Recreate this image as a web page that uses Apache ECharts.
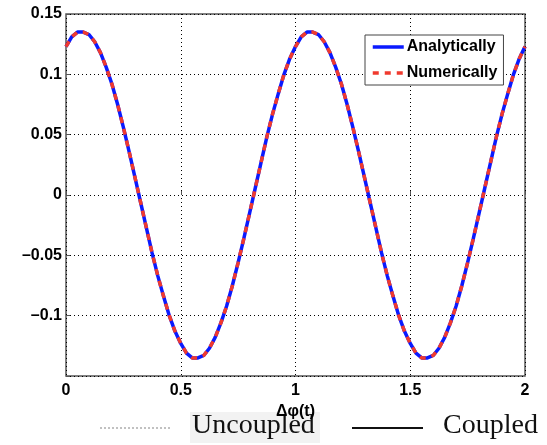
<!DOCTYPE html>
<html>
<head>
<meta charset="utf-8">
<script src="https://cdn.jsdelivr.net/npm/echarts@6/dist/echarts.min.js"></script>
<style>
  html, body { margin: 0; padding: 0; background: #fff; }
  #myChart { width: 547px; height: 445px; }
</style>
</head>
<body>
<div id="myChart"></div>
<script>
// values, t step 0.025
var tValues = [0, 0.025, 0.05, 0.075, 0.1, 0.125, 0.15, 0.175, 0.2, 0.225, 0.25, 0.275, 0.3, 0.325, 0.35, 0.375, 0.4, 0.425, 0.45, 0.475,
  0.5, 0.525, 0.55, 0.575, 0.6, 0.625, 0.65, 0.675, 0.7, 0.725, 0.75, 0.775, 0.8, 0.825, 0.85, 0.875, 0.9, 0.925, 0.95, 0.975,
  1, 1.025, 1.05, 1.075, 1.1, 1.125, 1.15, 1.175, 1.2, 1.225, 1.25, 1.275, 1.3, 1.325, 1.35, 1.375, 1.4, 1.425, 1.45, 1.475,
  1.5, 1.525, 1.55, 1.575, 1.6, 1.625, 1.65, 1.675, 1.7, 1.725, 1.75, 1.775, 1.8, 1.825, 1.85, 1.875, 1.9, 1.925, 1.95, 1.975, 2];
var analytically = [0.123, 0.131, 0.135, 0.135, 0.133, 0.127, 0.118, 0.106, 0.092, 0.075, 0.056, 0.036, 0.015, -0.006, -0.027, -0.048, -0.067, -0.084, -0.100, -0.113,
  -0.123, -0.131, -0.135, -0.135, -0.133, -0.127, -0.118, -0.106, -0.092, -0.075, -0.056, -0.036, -0.015, 0.006, 0.027, 0.048, 0.067, 0.084, 0.100, 0.113,
  0.123, 0.131, 0.135, 0.135, 0.133, 0.127, 0.118, 0.106, 0.092, 0.075, 0.056, 0.036, 0.015, -0.006, -0.027, -0.048, -0.067, -0.084, -0.100, -0.113,
  -0.123, -0.131, -0.135, -0.135, -0.133, -0.127, -0.118, -0.106, -0.092, -0.075, -0.056, -0.036, -0.015, 0.006, 0.027, 0.048, 0.067, 0.084, 0.100, 0.113, 0.123];
var numerically = [0.123, 0.131, 0.135, 0.135, 0.133, 0.127, 0.118, 0.106, 0.092, 0.075, 0.056, 0.036, 0.015, -0.006, -0.027, -0.048, -0.067, -0.084, -0.100, -0.113,
  -0.123, -0.131, -0.135, -0.135, -0.133, -0.127, -0.118, -0.106, -0.092, -0.075, -0.056, -0.036, -0.015, 0.006, 0.027, 0.048, 0.067, 0.084, 0.100, 0.113,
  0.123, 0.131, 0.135, 0.135, 0.133, 0.127, 0.118, 0.106, 0.092, 0.075, 0.056, 0.036, 0.015, -0.006, -0.027, -0.048, -0.067, -0.084, -0.100, -0.113,
  -0.123, -0.131, -0.135, -0.135, -0.133, -0.127, -0.118, -0.106, -0.092, -0.075, -0.056, -0.036, -0.015, 0.006, 0.027, 0.048, 0.067, 0.084, 0.100, 0.113, 0.123];
var seriesNames = ['Analytically', 'Numerically'];
var bottomLabels = ['Uncoupled', 'Coupled'];

function pairs(ys) {
  return tValues.map(function (t, i) { return [t, ys[i]]; });
}

var myChart = echarts.init(document.getElementById('myChart'));
var font = 'Liberation Sans, Arial, sans-serif';
var gridLine = { show: true, lineStyle: { color: '#000', width: 1, type: [1, 3] } };

myChart.setOption({
  animation: false,
  grid: { left: 66, right: 22, top: 14, bottom: 69, show: true, borderColor: '#555', borderWidth: 1.5, backgroundColor: 'transparent' },
  legend: {
    orient: 'vertical',
    left: 365, top: 35,
    padding: [4, 6, 4, 6],
    itemWidth: 31, itemHeight: 14, itemGap: 10,
    backgroundColor: '#fff', borderColor: '#444', borderWidth: 1,
    itemStyle: { opacity: 0 },
    lineStyle: { width: 3.5 },
    textStyle: { fontFamily: font, fontWeight: 'bold', fontSize: 16, color: '#000', padding: [0, 0, 0, -2] },
    data: seriesNames
  },
  xAxis: {
    type: 'value', min: 0, max: 2, interval: 0.5,
    name: 'Δφ(t)', nameLocation: 'middle', nameGap: 14,
    nameTextStyle: { fontFamily: font, fontWeight: 'bold', fontSize: 16, color: '#000', verticalAlign: 'top' },
    axisLine: { show: false },
    axisTick: { show: true, inside: true, length: 4, lineStyle: { color: '#555' } },
    axisLabel: { fontFamily: font, fontWeight: 'bold', fontSize: 16, color: '#000', margin: 7 },
    splitLine: gridLine
  },
  yAxis: {
    type: 'value', min: -0.15, max: 0.15, interval: 0.05,
    axisLine: { show: false },
    axisTick: { show: true, inside: true, length: 4, lineStyle: { color: '#555' } },
    axisLabel: {
      fontFamily: font, fontWeight: 'bold', fontSize: 16, color: '#000', margin: 4,
      formatter: function (v) {
        if (Math.abs(v + 0.15) < 1e-9) return '';
        return String(+v.toFixed(2)).replace('-', '\u2013');
      }
    },
    splitLine: gridLine
  },
  series: [
    {
      name: seriesNames[0], type: 'line', smooth: false, symbol: 'none',
      data: pairs(analytically),
      itemStyle: { color: '#0a1aff' },
      lineStyle: { color: '#0a1aff', width: 3.5 }
    },
    {
      name: seriesNames[1], type: 'line', smooth: false, symbol: 'none',
      data: pairs(numerically),
      itemStyle: { color: '#f03a2e' },
      lineStyle: { color: '#f03a2e', width: 3.5, type: [6, 6] }
    }
  ],
  graphic: [
    { type: 'rect', shape: { x: 190, y: 412, width: 130, height: 31 }, style: { fill: '#f2f2f2' } },
    { type: 'line', shape: { x1: 100, y1: 428, x2: 172, y2: 428 }, style: { stroke: '#999', lineWidth: 1.2, lineDash: [2, 2] } },
    { type: 'text', left: 192, top: 412, style: { text: bottomLabels[0], font: '28px "Liberation Serif", serif', fill: '#111' } },
    { type: 'line', shape: { x1: 352, y1: 428, x2: 423, y2: 428 }, style: { stroke: '#111', lineWidth: 2 } },
    { type: 'text', left: 443, top: 412, style: { text: bottomLabels[1], font: '28px "Liberation Serif", serif', fill: '#111' } }
  ]
});
</script>
</body>
</html>
